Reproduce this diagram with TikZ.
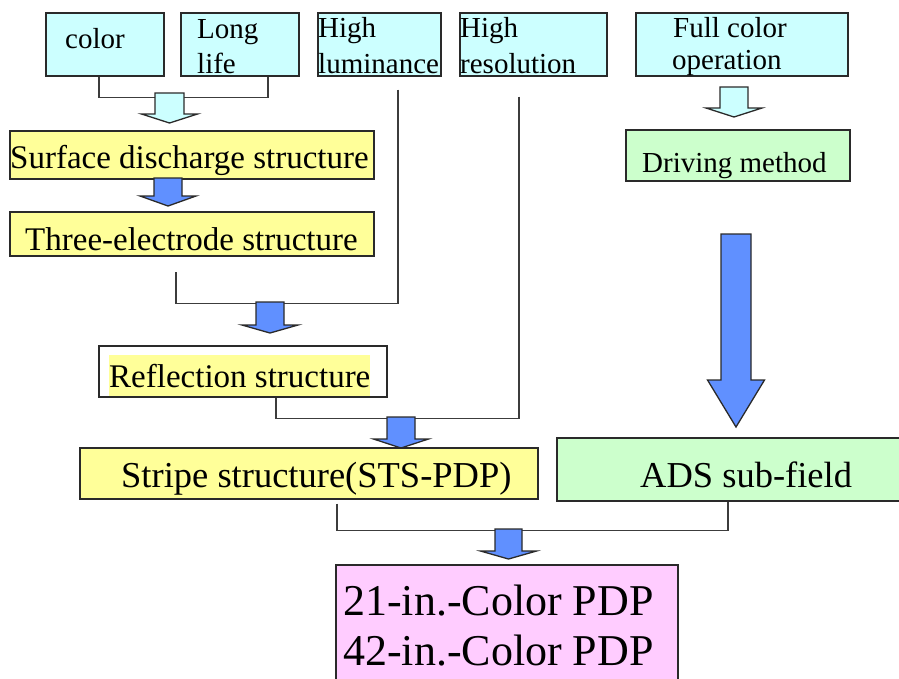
\documentclass[tikz,border=0pt]{standalone}
\usepackage{fontspec}
\setmainfont{Liberation Serif}
\definecolor{cyanfill}{HTML}{CCFFFF}
\definecolor{yellowfill}{HTML}{FFFF99}
\definecolor{greenfill}{HTML}{CCFFCC}
\definecolor{pinkfill}{HTML}{FFCCFF}
\definecolor{bluefill}{HTML}{6090FF}
\definecolor{edgecol}{HTML}{2A2A2A}
\definecolor{wirecol}{HTML}{3C3C3C}

% block arrow: fill, centre x, top y, neck y, tip y, half shaft, half head
\newcommand\fatarrow[7]{%
  \draw[arrowline, fill=#1] (#2-#6,#3) -- (#2+#6,#3) -- (#2+#6,#4) -- (#2+#7,#4)
    -- (#2,#5) -- (#2-#7,#4) -- (#2-#6,#4) -- cycle;}

\begin{document}
\begin{tikzpicture}[x=1pt,y=-1pt,
  box/.style={draw=edgecol,line width=1.6pt,inner sep=0pt,anchor=north west},
  lbl/.style={anchor=base west,inner sep=0pt,text=black},
  sizeS/.style={font=\fontsize{29}{35}\selectfont},
  sizeM/.style={font=\fontsize{33}{40}\selectfont},
  sizeL/.style={font=\fontsize{36.5}{44}\selectfont},
  sizeXL/.style={font=\fontsize{44}{50}\selectfont},
  wire/.style={draw=wirecol,line width=1.6pt},
  arrowline/.style={draw=edgecol,line width=1.3pt,line join=miter}]
\useasboundingbox (0,0) rectangle (899,678);
\clip (0,0) rectangle (899,678);

% requirement boxes
\node[box,fill=cyanfill,minimum width=118pt,minimum height=63pt] (color) at (45,12) {};
\node[box,fill=cyanfill,minimum width=118pt,minimum height=63pt] (life) at (180,12) {};
\node[box,fill=cyanfill,minimum width=123pt,minimum height=63pt] (lum) at (317,12) {};
\node[box,fill=cyanfill,minimum width=147pt,minimum height=63pt] (res) at (459,12) {};
\node[box,fill=cyanfill,minimum width=212pt,minimum height=63pt] (full) at (635,12) {};

% structure boxes
\node[box,fill=yellowfill,minimum width=364pt,minimum height=48pt] (surf) at (9,130) {};
\node[box,fill=greenfill,minimum width=224pt,minimum height=51pt] (drive) at (625,129) {};
\node[box,fill=yellowfill,minimum width=364pt,minimum height=44pt] (three) at (9,211) {};
\node[box,fill=white,minimum width=288pt,minimum height=51pt] (refl) at (98,345) {};
\node[box,fill=yellowfill,minimum width=458pt,minimum height=51pt] (stripe) at (79,447) {};
\node[box,fill=greenfill,minimum width=360pt,minimum height=63pt] (ads) at (556,437) {};
\node[box,fill=pinkfill,minimum width=342pt,minimum height=130pt] (pdp) at (335,564) {};

% labels
\node[lbl,sizeS] (colort) at (65,48) {color};
\node[lbl,sizeS] (lifet1) at (197,38) {Long};
\node[lbl,sizeS] (lifet2) at (197,73) {life};
\node[lbl,sizeS] (lumt1) at (318,37) {High};
\node[lbl,sizeS] (lumt2) at (318,73) {luminance};
\node[lbl,sizeS] (rest1) at (460,37) {High};
\node[lbl,sizeS] (rest2) at (460,73) {resolution};
\node[lbl,sizeS] (fullt1) at (673,37) {Full color};
\node[lbl,sizeS] (fullt2) at (672,69) {operation};
\node[lbl,sizeM] (surft) at (10,168) {Surface discharge structure};
\node[lbl,sizeS] (drivet) at (642,172) {Driving method};
\node[lbl,sizeM] (threet) at (25,250) {Three-electrode structure};
\node[lbl,sizeM,fill=yellowfill,text height=32pt,text depth=9pt] (reflt) at (109,387) {Reflection structure};
\node[lbl,sizeL] (stripet) at (121,487) {Stripe structure(STS-PDP)};
\node[lbl,sizeL] (adst) at (640,487) {ADS sub-field};
\node[lbl,sizeXL] (pdpt1) at (343,615) {21-in.-Color PDP};
\node[lbl,sizeXL] (pdpt2) at (343,665) {42-in.-Color PDP};

% joining lines
\draw[wire] ([xshift=-6pt]color.south) -- ++(0,21) -| ([xshift=28pt]life.south);
\draw[wire] ([shift={(18.5,13)}]lum.south) -- ++(0,214) -| ([shift={(-16,15)}]three.south);
\draw[wire] ([shift={(-14.5,20)}]res.south) -- ++(0,322) -| ([xshift=33pt]refl.south);
\draw[wire] ([shift={(28,4)}]stripe.south) -- ++(0,27) -| ([xshift=-9pt]ads.south);

% block arrows
\fatarrow{cyanfill}{169.5}{93}{114}{123}{14.5}{28}
\fatarrow{bluefill}{168}{178}{196}{206}{14}{28}
\fatarrow{bluefill}{270}{302}{325}{333}{14}{28}
\fatarrow{bluefill}{401}{417}{439}{448}{14}{27.5}
\fatarrow{cyanfill}{734}{87}{108}{117}{14}{28}
\fatarrow{bluefill}{736}{234}{380}{427}{15}{28.5}
\fatarrow{bluefill}{508.5}{529}{551}{559}{13.5}{28}
\end{tikzpicture}
\end{document}
